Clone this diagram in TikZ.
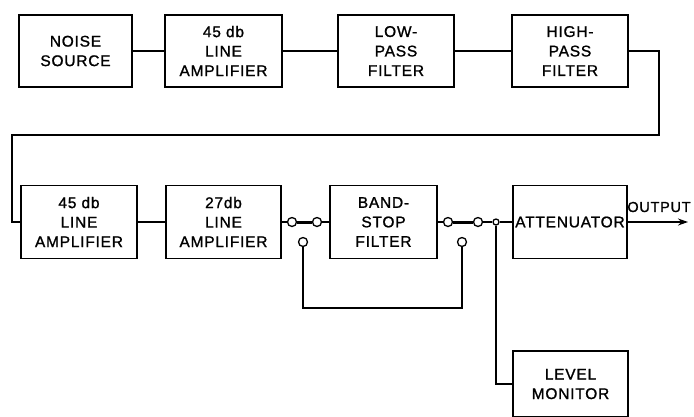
\documentclass[tikz,border=0pt]{standalone}
\usepackage{fontspec}
\newfontfamily\lettering[LetterSpace=5,FakeBold=1.2]{Liberation Sans}
\usetikzlibrary{arrows.meta}

\begin{document}
\begin{tikzpicture}[x=1pt, y=-1pt,
    block/.style={draw, line width=1.6pt, align=center, inner sep=0pt,
      font=\lettering\fontsize{15.5}{19.5}\selectfont},
    wire/.style={line width=1.4pt},
    blade/.style={line width=3pt},
    term/.style={circle, draw, line width=1.3pt, fill=white, minimum size=9pt, inner sep=0pt}]
  \useasboundingbox (0,0) rectangle (694,416);
  \clip (0,0) rectangle (694,416);
  % first row
  \node[block, minimum width=113pt, minimum height=72pt] (noise) at (75.5,51) {NOISE\\SOURCE};
  \node[block, minimum width=117pt, minimum height=72pt] (amp1) at (223.5,51) {45 db\\LINE\\AMPLIFIER};
  \node[block, minimum width=116pt, minimum height=72pt] (low) at (396,51) {LOW-\\PASS\\FILTER};
  \node[block, minimum width=116pt, minimum height=72pt] (high) at (570,51) {HIGH-\\PASS\\FILTER};
  % second row
  \node[block, minimum width=116pt, minimum height=73pt] (amp2) at (79,222) {45 db\\LINE\\AMPLIFIER};
  \node[block, minimum width=115pt, minimum height=73pt] (amp3) at (223.5,222) {27db\\LINE\\AMPLIFIER};
  \node[block, minimum width=107pt, minimum height=73pt] (band) at (383.5,222) {BAND-\\STOP\\FILTER};
  \node[block, minimum width=114pt, minimum height=73pt] (atten) at (570,222) {ATTENUATOR};
  \node[block, minimum width=115pt, minimum height=66pt] (monitor) at (570.5,384) {LEVEL\\MONITOR};
  % switch terminals
  \node[term] (s1) at (292,222) {};
  \node[term] (s2) at (317,222) {};
  \node[term] (s3) at (303,242) {};
  \node[term] (s4) at (448,222) {};
  \node[term] (s5) at (478,222) {};
  \node[term] (s6) at (462,242) {};
  \node[term, minimum size=6pt] (j) at (496,222) {};
  \coordinate (turnR) at (659,135);
  \coordinate (turnL) at (12,135);
  \coordinate (out) at (688,222);
  % connections
  \draw[wire] (noise) -- (amp1);
  \draw[wire] (amp1) -- (low);
  \draw[wire] (low) -- (high);
  \draw[wire] (high) -| (turnR) -- (turnL) |- (amp2);
  \draw[wire] (amp2) -- (amp3);
  \draw[wire] (amp3) -- (s1);
  \draw[blade] (s1) -- (s2);
  \draw[wire] (s2) -- (band);
  \draw[wire] (band) -- (s4);
  \draw[blade] (s4) -- (s5);
  \draw[wire] (s5) -- (j);
  \draw[wire] (j) -- (atten);
  \draw[wire] (s3) -- ++(0,66) -| (s6);
  \draw[wire] (j) |- (monitor);
  \draw[wire, -{Stealth[length=10pt, width=7pt]}] (atten) -- (out);
  \node[font=\lettering\fontsize{14.5}{17}\selectfont] (outlabel) at (659,207) {OUTPUT};
\end{tikzpicture}
\end{document}
